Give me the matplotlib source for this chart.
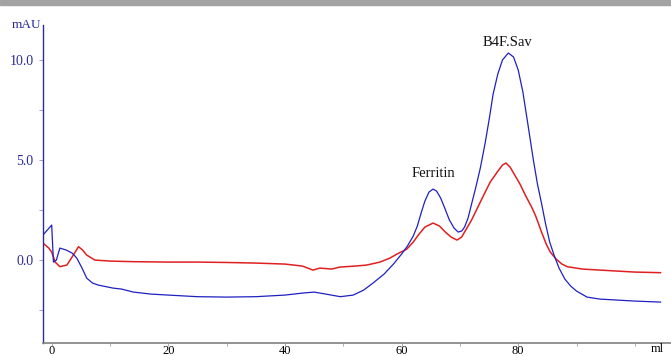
import matplotlib
matplotlib.use("Agg")
import matplotlib.pyplot as plt
from matplotlib.ticker import FixedLocator

blue_x = [-1.5, 0.0, 0.3, 0.8, 1.4, 2.5, 3.5, 4.3, 5.2, 6.0, 7.0, 8.0, 10.5, 12, 14, 17, 20, 25, 30, 35,
          40, 43, 45, 47, 49.5, 51.7, 53.5, 55, 57, 58.6, 60, 61, 62, 62.7, 63.4, 64, 64.7, 65.4, 66, 66.7,
          67.4, 68.2, 69, 69.7, 70.3, 70.8, 71.4, 72, 72.7, 73.5, 74.3, 75, 75.7, 76.5, 77.3, 78.3, 79.2, 80,
          80.8, 81.6, 82.6, 83.3, 84, 84.7, 85.4, 86.2, 87, 88, 89, 90, 91.8, 94, 97, 100, 104.4]
blue_y = [1.25, 1.75, -0.1, 0.0, 0.6, 0.5, 0.35, 0.1, -0.4, -0.9, -1.15, -1.25, -1.4, -1.45, -1.6, -1.7, -1.75, -1.83, -1.85, -1.83,
          -1.75, -1.65, -1.6, -1.7, -1.83, -1.75, -1.5, -1.17, -0.7, -0.2, 0.3, 0.7, 1.2, 1.7, 2.4, 2.95, 3.4, 3.55, 3.45, 3.1,
          2.6, 2.0, 1.6, 1.4, 1.45, 1.65, 2.1, 2.8, 3.6, 4.6, 5.8, 7.0, 8.3, 9.3, 10.0, 10.35, 10.15, 9.5,
          8.4, 6.9, 5.0, 3.8, 2.83, 1.8, 0.9, 0.2, -0.4, -0.95, -1.3, -1.55, -1.85, -1.95, -2.0, -2.05, -2.1]

red_x = [-1.5, -0.5, 0.0, 0.6, 1.4, 2.6, 3.6, 4.6, 5.3, 6.0, 7.4, 10, 14, 20, 25, 30, 35, 40, 43, 44.8,
         46, 48, 49.4, 52, 54, 56.3, 58, 59.2, 60.9, 62, 63, 64, 65.4, 66.5, 67.5, 68.5, 69.5, 70.3, 71.2,
         72, 73, 74, 75.2, 76.4, 77.3, 77.9, 78.6, 79.3, 80.3, 81.3, 82.3, 83, 84, 84.8, 85.5, 86.5, 87.5,
         88.4, 91, 94, 97, 100, 104.4]
red_y = [0.85, 0.6, 0.4, -0.1, -0.33, -0.25, 0.2, 0.67, 0.5, 0.25, 0.0, -0.05, -0.08, -0.1, -0.1, -0.12, -0.15, -0.2, -0.3, -0.5,
         -0.4, -0.45, -0.35, -0.3, -0.25, -0.1, 0.1, 0.3, 0.55, 0.9, 1.3, 1.65, 1.85, 1.7, 1.4, 1.15, 1.0, 1.15, 1.6,
         2.0, 2.6, 3.2, 3.9, 4.4, 4.75, 4.85, 4.65, 4.3, 3.8, 3.2, 2.65, 2.2, 1.4, 0.8, 0.4, 0.05, -0.2,
         -0.33, -0.45, -0.5, -0.55, -0.6, -0.63]

y_major = [0.0, 5.0, 10.0]
y_labels = ["0.0", "5.0", "10.0"]
y_minor = [-2.5, 2.5, 7.5]
x_major = [0, 20, 40, 60, 80]
x_labels = ["0", "20", "40", "60", "80"]
x_minor = [10, 30, 50, 70, 90, 100]

peak_labels = ["Ferritin", "B4F.Sav"]
peak_pos = [(65.4, 4.35), (78.2, 10.9)]

navy = "#2a2a9a"
plt.rcParams['font.family'] = ['Liberation Serif', 'DejaVu Serif']

fig = plt.figure(figsize=(6.71, 3.56), dpi=100)
fig.patches.append(plt.Rectangle((0, 1 - 5 / 356), 1, 5 / 356, transform=fig.transFigure,
                                 color="#a3a3a3", zorder=0))
ax = fig.add_axes([43.3 / 671, 1 - 342.7 / 356, 1 - 43.3 / 671, (342.7 - 25) / 356])

ax.plot(red_x, red_y, color="#e02020", lw=1.1)
ax.plot(blue_x, blue_y, color="#2020c0", lw=0.9)

ax.set_xlim(-1.44, 106.2)
ax.set_ylim(-4.13, 11.75)

for s in ["top", "right"]:
    ax.spines[s].set_visible(False)
ax.spines["left"].set_color(navy)
ax.spines["bottom"].set_color("#808080")
ax.spines["left"].set_linewidth(1.0)
ax.spines["bottom"].set_linewidth(1.2)

ax.yaxis.set_major_locator(FixedLocator(y_major))
ax.set_yticklabels(y_labels)
ax.yaxis.set_minor_locator(FixedLocator(y_minor))
ax.xaxis.set_major_locator(FixedLocator(x_major))
ax.set_xticklabels(x_labels)
ax.xaxis.set_minor_locator(FixedLocator(x_minor))

ax.tick_params(axis="y", which="both", length=3, width=0.6, color="#9090c0", labelcolor=navy,
               labelsize=10, pad=4)
ax.tick_params(axis="x", which="both", length=2, width=0.6, color="#a0a0a0", labelcolor="black",
               labelsize=9, pad=0)

fig.text(27 / 671, 1 - 25 / 356, "mAU", color=navy, fontsize=9.5, ha="center", va="center")
fig.text(657 / 671, 0.5 / 356, "ml", fontsize=9, ha="center", va="bottom")

for lab, (px, py) in zip(peak_labels, peak_pos):
    ax.text(px, py, lab, fontsize=10.5, ha="center", va="center", color="#111111")

fig.savefig("out.png", dpi=100)
